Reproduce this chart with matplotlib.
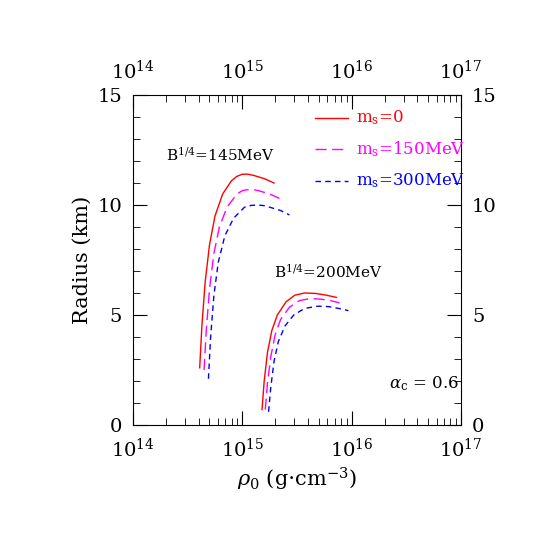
import numpy as np
import matplotlib
matplotlib.use("Agg")
import matplotlib.pyplot as plt
from matplotlib.ticker import LogLocator, NullFormatter

plt.rcParams['font.family'] = ['DejaVu Serif']
plt.rcParams['mathtext.fontset'] = 'dejavuserif'

# log10(rho0) and radius (km)
lr_145_0 = [14.61, 14.63, 14.66, 14.70, 14.75, 14.82, 14.90, 14.95, 15.00, 15.05, 15.10, 15.20, 15.29]
r_145_0 = [2.6, 4.5, 6.5, 8.2, 9.5, 10.5, 11.1, 11.3, 11.4, 11.4, 11.35, 11.2, 11.0]
lr_145_150 = [14.65, 14.67, 14.70, 14.74, 14.79, 14.86, 14.95, 15.00, 15.05, 15.10, 15.15, 15.25, 15.34]
r_145_150 = [2.5, 4.3, 6.2, 7.8, 9.0, 9.9, 10.5, 10.65, 10.7, 10.7, 10.65, 10.5, 10.3]
lr_145_300 = [14.69, 14.71, 14.74, 14.78, 14.84, 14.92, 15.02, 15.08, 15.14, 15.20, 15.25, 15.35, 15.43]
r_145_300 = [2.1, 4.0, 5.9, 7.4, 8.6, 9.4, 9.9, 9.98, 10.0, 9.97, 9.9, 9.75, 9.55]
lr_200_0 = [15.18, 15.20, 15.23, 15.27, 15.32, 15.40, 15.48, 15.57, 15.67, 15.77, 15.86]
r_200_0 = [0.7, 2.0, 3.3, 4.3, 5.0, 5.6, 5.9, 6.0, 5.98, 5.9, 5.8]
lr_200_150 = [15.21, 15.23, 15.26, 15.30, 15.35, 15.43, 15.52, 15.62, 15.72, 15.81, 15.89]
r_200_150 = [0.7, 1.9, 3.1, 4.1, 4.8, 5.35, 5.65, 5.75, 5.72, 5.65, 5.55]
lr_200_300 = [15.24, 15.26, 15.29, 15.33, 15.39, 15.47, 15.57, 15.69, 15.79, 15.88, 15.97]
r_200_300 = [0.6, 1.7, 2.9, 3.8, 4.5, 5.0, 5.3, 5.4, 5.38, 5.3, 5.2]

styles = [("red", "-"), ("magenta", (0, (8, 4))), ("blue", (0, (4, 3)))]
labels = [r"m$_{\rm s}$=0", r"m$_{\rm s}$=150MeV", r"m$_{\rm s}$=300MeV"]

fig = plt.figure(figsize=(5.4, 5.4), dpi=100)
ax = fig.add_axes([133/540, 115/540, 328/540, 330/540])
groups = [(lr_145_0, r_145_0), (lr_145_150, r_145_150), (lr_145_300, r_145_300)]
groups2 = [(lr_200_0, r_200_0), (lr_200_150, r_200_150), (lr_200_300, r_200_300)]
for (c, ls), g1, g2 in zip(styles, groups, groups2):
    ax.plot(10**np.array(g1[0]), g1[1], color=c, ls=ls, lw=1)
    ax.plot(10**np.array(g2[0]), g2[1], color=c, ls=ls, lw=1)

ax.set_xscale("log")
ax.set_xlim(1e14, 1e17)
ax.set_ylim(0, 15)
ax.set_yticks([0, 5, 10, 15])
ax.yaxis.set_minor_locator(matplotlib.ticker.MultipleLocator(1))
ax.xaxis.set_minor_locator(LogLocator(subs=np.arange(2, 10)))
ax.xaxis.set_minor_formatter(NullFormatter())
ax.tick_params(which="both", direction="in", top=True, right=True,
               labeltop=True, labelright=True, labelsize=14)
ax.tick_params(which="major", length=10)
ax.tick_params(which="minor", length=5)
ax.tick_params(axis="x", pad=9)
ax.tick_params(axis="y", pad=8)
ax.set_xlabel(r"$\rho_0$ (g$\cdot$cm$^{-3}$)", fontsize=15)
ax.set_ylabel("Radius (km)", fontsize=15)

# legend drawn by hand
for i, ((c, ls), lab) in enumerate(zip(styles, labels)):
    y = 0.93 - i * 0.095
    ax.plot([0.555, 0.655], [y, y], transform=ax.transAxes, color=c, ls=ls, lw=1)
    ax.text(0.68, y, lab, transform=ax.transAxes, color=c, fontsize=12, va="center")

ax.text(0.1, 0.8, r"B$^{1/4}$=145MeV", transform=ax.transAxes, fontsize=11)
ax.text(0.43, 0.445, r"B$^{1/4}$=200MeV", transform=ax.transAxes, fontsize=11)
ax.text(0.78, 0.11, r"$\alpha_{\rm c}$ = 0.6", transform=ax.transAxes, fontsize=12)

fig.savefig("out.png", dpi=100)
